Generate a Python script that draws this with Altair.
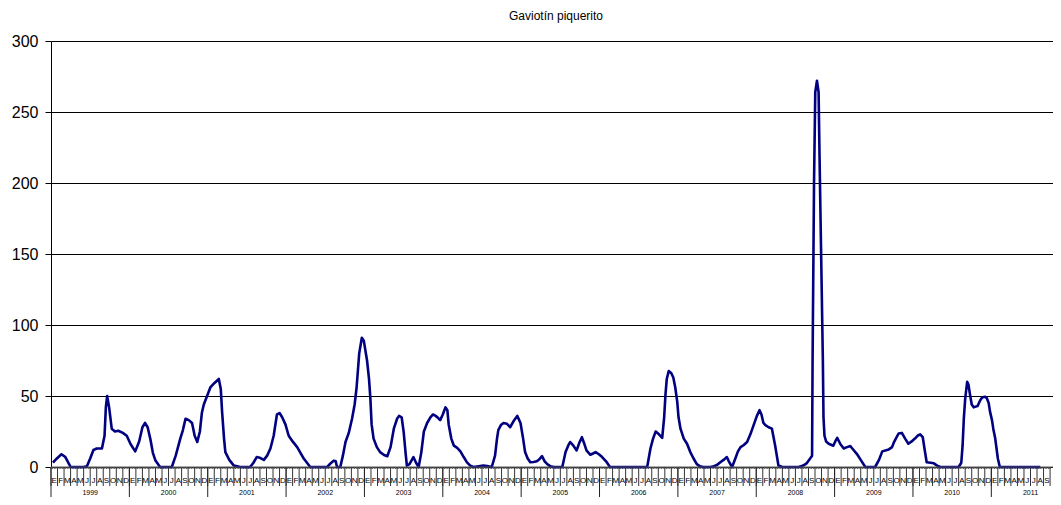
import altair as alt
import pandas as pd

# month position (months since Jan 1999) and counts
month_pos = [0.3, 0.9, 1.6, 2.2, 3.0, 4.0, 5.0, 5.5, 6.0, 6.5, 7.0, 7.8, 8.2, 8.4, 8.6, 8.9, 9.3, 9.8,
             10.3, 11.0, 11.6, 12.2, 12.9, 13.5, 14.0, 14.4, 14.8, 15.2, 15.6, 16.0, 16.7, 17.5, 18.5,
             19.1, 19.8, 20.2, 20.6, 21.1, 21.6, 22.0, 22.4, 22.8, 23.1, 23.4, 23.9, 24.4, 25.0, 25.7,
             26.0, 26.2, 26.5, 26.7, 27.3, 28.0, 29.0, 30.5, 31.0, 31.5, 32.0, 32.6, 33.1, 33.6, 34.1,
             34.6, 35.0, 35.4, 35.9, 36.4, 37.0, 37.7, 38.2, 38.7, 39.2, 39.7, 41.0, 42.3, 42.8, 43.3,
             43.6, 43.8, 44.3, 44.7, 45.1, 45.6, 46.1, 46.5, 46.8, 47.2, 47.6, 47.9, 48.4, 48.7, 48.9,
             49.1, 49.4, 49.9, 50.4, 51.0, 51.5, 52.0, 52.5, 53.0, 53.3, 53.7, 54.0, 54.3, 54.5, 54.9,
             55.5, 55.9, 56.3, 56.7, 57.1, 57.6, 58.1, 58.5, 58.9, 59.3, 59.6, 60.0, 60.4, 60.7, 60.9,
             61.3, 61.7, 62.2, 62.7, 63.2, 63.7, 64.2, 64.7, 65.5, 66.2, 66.8, 67.5, 68.0, 68.3, 68.5,
             68.9, 69.3, 69.8, 70.3, 70.8, 71.4, 71.9, 72.3, 72.6, 73.0, 73.4, 73.9, 74.4, 74.8, 75.2,
             75.6, 76.0, 76.5, 77.0, 78.3, 78.8, 79.2, 79.5, 80.0, 80.5, 80.9, 81.3, 81.7, 82.0, 82.6,
             83.0, 83.4, 83.9, 84.4, 85.0, 85.6, 87.0, 89.0, 91.3, 91.8, 92.2, 92.6, 93.1, 93.6, 93.9,
             94.1, 94.3, 94.6, 95.0, 95.3, 95.6, 95.9, 96.1, 96.4, 96.9, 97.4, 97.9, 98.4, 98.9, 99.4,
             99.9, 101.0, 101.5, 102.0, 102.5, 103.0, 103.5, 103.8, 104.3, 104.8, 105.2, 105.6, 106.1,
             106.6, 107.1, 107.6, 108.1, 108.5, 108.8, 109.1, 109.4, 109.9, 110.4, 110.9, 111.4, 112.0,
             113.0, 114.5, 115.2, 115.7, 116.2, 116.55, 116.63, 116.85, 117.04, 117.3, 117.55, 117.7,
             118.2, 118.3, 118.45, 118.7, 119.1, 119.8, 120.1, 120.4, 120.9, 121.4, 121.9, 122.4, 122.9,
             123.4, 124.0, 124.7, 126.2, 126.8, 127.3, 128.3, 128.8, 129.1, 129.5, 129.8, 130.3, 130.8,
             131.3, 131.8, 132.3, 132.7, 133.1, 133.5, 133.8, 134.1, 134.7, 135.2, 135.7, 136.2, 139.0,
             139.4, 139.6, 139.8, 140.0, 140.3, 140.5, 140.7, 141.0, 141.3, 141.6, 141.9, 142.3, 142.6,
             143.0, 143.3, 143.6, 143.8, 144.1, 144.3, 144.6, 144.8, 145.0, 145.3, 148.0, 151.5]
counts = [3, 6, 9, 7, 0, 0, 0, 0.5, 6, 12, 13, 13, 22, 42, 50, 42, 27, 25,
          25.5, 24, 22, 16, 11, 18, 28, 31, 28, 20, 10, 4.5, 0, 0, 0,
          8, 20, 26, 34, 33, 31, 22, 17.6, 25, 38, 44, 50, 56, 59, 62,
          55, 39, 20, 10.5, 5, 1, 0, 0, 3, 7, 6.5, 5, 8, 13, 22,
          37, 38, 35, 30, 22, 18, 14, 10, 6, 3, 0, 0, 0, 2.5, 4.5,
          4, 0, 0, 8, 17.6, 24, 34, 44, 56, 80, 91, 89, 75, 62, 49,
          30, 20, 14, 10.5, 8.5, 7.6, 14, 27, 34, 36, 35, 25, 10, 1, 2,
          7, 3, 0, 10, 25, 31, 35, 37, 36, 34.5, 33, 37, 42, 40, 30,
          20, 15, 13.5, 11, 7, 3.3, 1, 0, 0.5, 1, 0.6, 0, 8, 20, 26,
          29.5, 31, 30.5, 28, 32, 36, 31, 20, 10.5, 6, 3.3, 3.5, 4, 5.5, 7.6,
          4, 2, 0.5, 0, 0, 10.5, 15, 17.6, 15, 11.7, 17, 21, 16, 11.7, 8.6,
          9.5, 10.5, 9, 7, 4, 0, 0, 0, 0, 13, 20, 25, 23, 20.5, 35,
          51, 62, 67.6, 66, 63, 56, 46, 35, 27, 20, 16.4, 10.5, 6, 2, 0.5,
          0, 0, 0.5, 1.5, 3.3, 5, 7, 4, 0, 6, 11, 14, 15.5,
          17.6, 23, 29.5, 36, 40, 37, 31, 29.5, 28, 27, 15, 1, 0,
          0, 0, 1, 2.5, 5.7, 8, 76, 200, 264, 272, 264, 217,
          76, 35, 22, 18, 16.4, 15, 18, 20.5, 16, 13, 14, 14.8, 12,
          9.3, 5, 0, 0, 5, 11, 12.4, 14, 17.6, 21, 23.6, 24, 20,
          16.4, 18, 20, 22, 23, 21, 12, 3.3, 3, 2.6, 1, 0, 0,
          3, 15, 35, 48, 60, 58, 52, 44, 42, 42.5, 43, 47, 49,
          49.5, 48.6, 45, 39, 33, 27, 20, 13, 6, 0, 0, 0]

title_text = ["Gaviotín piquerito"]
month_letters = ["E", "F", "M", "A", "M", "J", "J", "A", "S", "O", "N", "D"]
years = list(range(1999, 2012))
y_ticks = [0, 50, 100, 150, 200, 250, 300]

W, H = 1002, 426
PX_PER_MONTH = 6.53
x_max = W / PX_PER_MONTH
n_labels = 153
n_ticks = 154
FONT = "Liberation Sans"

line_df = pd.DataFrame({"t": month_pos, "v": counts})
mlab_df = pd.DataFrame({"t": [m + 0.5 for m in range(n_labels)],
                        "lab": [month_letters[m % 12] for m in range(n_labels)]})
mtick_df = pd.DataFrame({"t": list(range(n_ticks))})
minor_df = pd.DataFrame({"t": [q / 4 for q in range(int(x_max * 4))]})
ylab_df = pd.DataFrame({"t": [12 * i + 6 for i in range(len(years))], "lab": [str(y) for y in years]})
ysep_df = pd.DataFrame({"t": [12 * i for i in range(len(years))]})

xs = alt.Scale(domain=[0, x_max], nice=False, zero=False)
ys = alt.Scale(domain=[0, 300], nice=False)
X = alt.X("t:Q", scale=xs, axis=None)

line = alt.Chart(line_df).mark_line(color="#000080", strokeWidth=2.6, strokeJoin="round").encode(
    x=X,
    y=alt.Y("v:Q", scale=ys, title=None,
            axis=alt.Axis(values=y_ticks, grid=True, gridColor="#000000", gridWidth=1,
                          domainColor="#000000", tickColor="#000000", tickSize=6,
                          labelFontSize=16, labelFont=FONT, labelColor="#000000", labelPadding=7)),
)

minor = alt.Chart(minor_df).mark_rule(color="#555555", strokeWidth=1).encode(
    x=X, y=alt.value(H), y2=alt.value(H + 2))

mticks = alt.Chart(mtick_df).mark_rule(color="#333333", strokeWidth=1).encode(
    x=X, y=alt.value(H), y2=alt.value(H + 19))

ysep = alt.Chart(ysep_df).mark_rule(color="#222222", strokeWidth=1).encode(
    x=X, y=alt.value(H), y2=alt.value(H + 30))

baseline = alt.Chart(pd.DataFrame({"v": [0]})).mark_rule(color="#555555", strokeWidth=1).encode(
    y=alt.Y("v:Q", scale=ys), x=alt.value(0), x2=alt.value(W))

mlabels = alt.Chart(mlab_df).mark_text(font=FONT, fontSize=8, color="#000000", baseline="middle").encode(
    x=X, y=alt.value(H + 14), text="lab:N")

ylabels = alt.Chart(ylab_df).mark_text(font=FONT, fontSize=7, color="#000000", baseline="middle").encode(
    x=X, y=alt.value(H + 26), text="lab:N")

title = alt.Chart(pd.DataFrame({"lab": title_text})).mark_text(
    font=FONT, fontSize=12, color="#000000", baseline="middle", align="center").encode(
    x=alt.value(505), y=alt.value(-25), text="lab:N")

chart = alt.layer(minor, mticks, ysep, line, baseline, mlabels, ylabels, title).properties(
    width=W, height=H,
    autosize=alt.AutoSizeParams(type="none"),
    padding={"left": 43, "top": 33, "right": 0, "bottom": 30},
).configure_view(strokeWidth=0).configure(background="white")

chart.save("out.html", embed_options={"renderer": "svg", "actions": False})
